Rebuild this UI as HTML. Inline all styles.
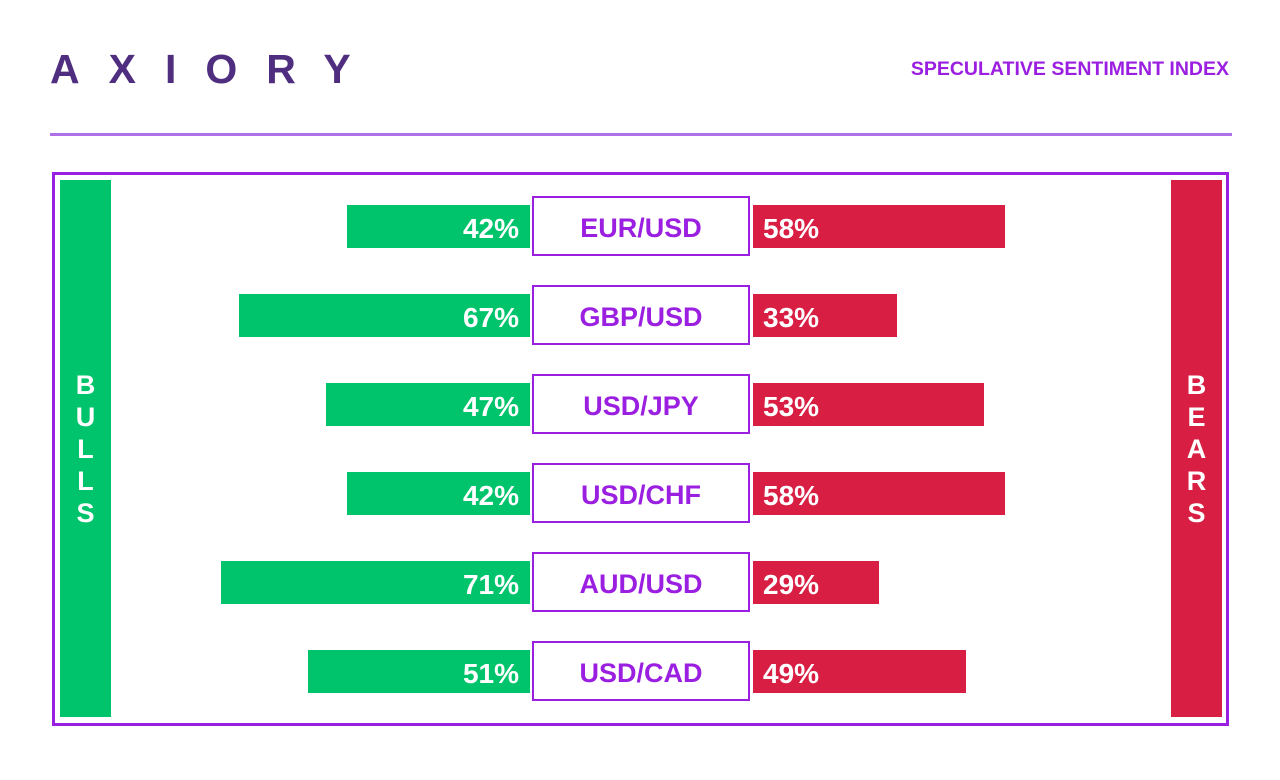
<!DOCTYPE html>
<html><head><meta charset="utf-8"><style>
body{margin:0;width:1280px;height:780px;background:#fff;font-family:"Liberation Sans",sans-serif;position:relative;overflow:hidden}
.abs{position:absolute}
#logo{left:50px;top:46px;font-size:41px;font-weight:bold;color:#4f2d7f;letter-spacing:29px;line-height:46px}
#title{right:51px;top:58px;font-size:19.5px;font-weight:bold;color:#9b1fe0}
#rule{left:50px;top:133px;width:1182px;height:3px;background:#ad70e6}
#frame{left:52px;top:172px;width:1171px;height:548px;border:3px solid #9b1fe0}
.side{width:51px;height:537px;top:180px;color:#fff;font-weight:bold;font-size:27px;text-align:center;line-height:32px;display:flex;flex-direction:column;justify-content:center}
.bar{position:absolute;height:43px;color:#fff;font-weight:bold;font-size:28px;line-height:47px;box-sizing:border-box}
.lab{position:absolute;left:532px;width:218px;height:60px;box-sizing:border-box;border:2px solid #9b1fe0;color:#9b1fe0;font-weight:bold;font-size:27px;line-height:60px;text-align:center;background:#fff}
</style></head><body>
<div id="logo" class="abs">AXIORY</div>
<div id="title" class="abs">SPECULATIVE SENTIMENT INDEX</div>
<div id="rule" class="abs"></div>
<div id="frame" class="abs"></div>
<div class="abs side" style="left:60px;background:#00c46c"><span>B</span><span>U</span><span>L</span><span>L</span><span>S</span></div>
<div class="abs side" style="left:1171px;background:#d81e43"><span>B</span><span>E</span><span>A</span><span>R</span><span>S</span></div>
<div id="chart"></div>
<script>
const pairs=["EUR/USD","GBP/USD","USD/JPY","USD/CHF","AUD/USD","USD/CAD"];
const bulls=[42,67,47,42,71,51];
const bears=[58,33,53,58,29,49];
const pxPer=4.35, bullRight=530, bearLeft=753, top0=205, step=89;
const xLen=v=>v*pxPer;
const c=document.getElementById('chart');
pairs.forEach((p,i)=>{
  const y=top0+i*step;
  const g=document.createElement('div');
  
  
  g.className='bar';
  const gl=xLen(bulls[i]);
  g.style.cssText=`left:${bullRight-gl}px;top:${y}px;width:${gl}px;background:#00c46c;text-align:right;padding-right:11px`;
  g.textContent=bulls[i]+'%';c.appendChild(g);
  const r=document.createElement('div');
  
  
  r.className='bar';
  r.style.cssText=`left:${bearLeft}px;top:${y}px;width:${xLen(bears[i])}px;background:#d81e43;padding-left:10px`;
  r.textContent=bears[i]+'%';c.appendChild(r);
  const l=document.createElement('div');
  
  
  l.className='lab';
  l.style.top=(y-9)+'px';
  l.textContent=p;c.appendChild(l);
});
</script>
</body></html>
